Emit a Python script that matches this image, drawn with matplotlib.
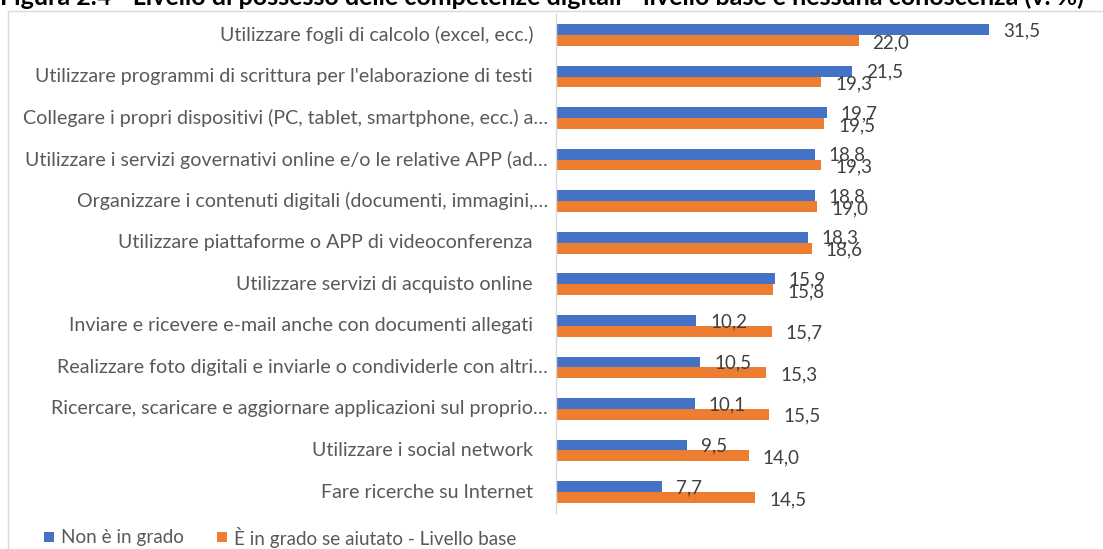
import matplotlib
matplotlib.use("Agg")
import matplotlib.pyplot as plt
from matplotlib.patches import Rectangle
import numpy as np

# --- data -------------------------------------------------------------
categories = [
    "Utilizzare fogli di calcolo (excel, ecc.)",
    "Utilizzare programmi di scrittura per l'elaborazione di testi",
    "Collegare i propri dispositivi (PC, tablet, smartphone, ecc.) a…",
    "Utilizzare i servizi governativi online e/o le relative APP (ad…",
    "Organizzare i contenuti digitali (documenti, immagini,…",
    "Utilizzare piattaforme o APP di videoconferenza",
    "Utilizzare servizi di acquisto online",
    "Inviare e ricevere e-mail anche con documenti allegati",
    "Realizzare foto digitali e inviarle o condividerle con altri…",
    "Ricercare, scaricare e aggiornare applicazioni sul proprio…",
    "Utilizzare i social network",
    "Fare ricerche su Internet",
]
non_in_grado = [31.5, 21.5, 19.7, 18.8, 18.8, 18.3, 15.9, 10.2, 10.5, 10.1, 9.5, 7.7]
in_grado_aiutato = [22.0, 19.3, 19.5, 19.3, 19.0, 18.6, 15.8, 15.7, 15.3, 15.5, 14.0, 14.5]
series_names = ["Non è in grado", "È in grado se aiutato - Livello base"]
title = ("Figura 2.4 - Livello di possesso delle competenze digitali - "
         "livello base e nessuna conoscenza (v. %)")

# --- style ------------------------------------------------------------
W, H, DPI = 1103, 549, 100
BLUE = "#4472C4"
ORANGE = "#ED7D31"
GRID = "#D9D9D9"
LABEL = "#595959"
VALUE = "#404040"
FONT = ["Lato", "DejaVu Sans"]
plt.rcParams["font.family"] = FONT

fig = plt.figure(figsize=(W / DPI, H / DPI), dpi=DPI)


def fx(x):
    return x / W


def fy(y):
    return 1 - y / H


# chart-area border
fig.patches.append(Rectangle((fx(8), fy(560)), fx(1110) - fx(8), fy(11) - fy(560),
                             transform=fig.transFigure, fill=False,
                             edgecolor=GRID, linewidth=1.0, zorder=0))

# plot area
ax_left, ax_right, ax_top, ax_bottom = 556, 1095, 14.2, 512.8
ax = fig.add_axes([fx(ax_left), fy(ax_bottom), fx(ax_right) - fx(ax_left),
                   fy(ax_top) - fy(ax_bottom)])
ax.patch.set_alpha(0)

n = len(categories)
y = np.arange(n)
h = 0.26
ax.barh(y - h / 2, non_in_grado, height=h, color=BLUE, zorder=2)
ax.barh(y + h / 2, in_grado_aiutato, height=h, color=ORANGE, zorder=2)

px_per_unit = 13.75
ax.set_xlim(0, (ax_right - ax_left) / px_per_unit)
ax.set_ylim(n - 0.5, -0.5)
for s in ["top", "right", "bottom"]:
    ax.spines[s].set_visible(False)
ax.spines["left"].set_color(GRID)
ax.spines["left"].set_linewidth(1.0)
ax.set_xticks([])
ax.set_yticks([])


def fmt(v):
    return f"{v:.1f}".replace(".", ",")


for i, (a, b) in enumerate(zip(non_in_grado, in_grado_aiutato)):
    ax.annotate(fmt(a), xy=(a, i - h / 2), xytext=(14, -1), textcoords="offset pixels",
                ha="left", va="center", fontsize=13.5, color=VALUE, zorder=3)
    ax.annotate(fmt(b), xy=(b, i + h / 2), xytext=(14, -2), textcoords="offset pixels",
                ha="left", va="center", fontsize=13.5, color=VALUE, zorder=3)
    lab = categories[i]
    gap = 8 if lab.endswith("…") else 23
    ax.annotate(lab, xy=(0, i), xycoords=("axes fraction", "data"),
                xytext=(-gap, 0), textcoords="offset pixels",
                ha="right", va="center", fontsize=14.1, color=LABEL)

# title, fitted to the page width
t = fig.text(fx(0), fy(5), title, ha="left", va="baseline",
             fontsize=14, fontweight="bold", color="#000000")
fig.canvas.draw()
wpx = t.get_window_extent().width
t.set_fontsize(14 * 1090 / wpx)

# legend
for (x0, col, name) in [(44, BLUE, series_names[0]), (217, ORANGE, series_names[1])]:
    fig.patches.append(Rectangle((fx(x0), fy(542)), fx(10), fy(532) - fy(542),
                                 transform=fig.transFigure, facecolor=col,
                                 edgecolor="none"))
    fig.text(fx(x0 + 17), fy(537), name, ha="left", va="center",
             fontsize=13.6, color=LABEL)

fig.savefig("out.png", dpi=DPI)
